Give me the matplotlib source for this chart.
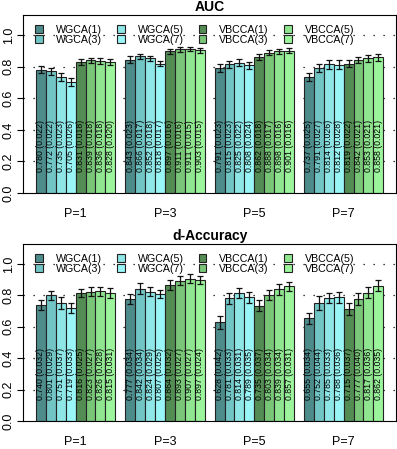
import numpy as np
import matplotlib.pyplot as plt
from matplotlib.patches import Patch

plt.rcParams['font.family'] = ['Liberation Sans', 'DejaVu Sans']

groups = ['P=1', 'P=3', 'P=5', 'P=7']
methods = ['WGCA(1)', 'WGCA(3)', 'WGCA(5)', 'WGCA(7)',
           'VBCCA(1)', 'VBCCA(3)', 'VBCCA(5)', 'VBCCA(7)']
colors = ['#4e8b8b', '#72c5c5', '#8ee6e6', '#9af6f6',
          '#538d53', '#79c679', '#90e690', '#9cf59c']

# rows = groups, cols = methods
auc_mean = [[0.780, 0.772, 0.735, 0.705, 0.831, 0.839, 0.836, 0.828],
            [0.843, 0.866, 0.852, 0.818, 0.897, 0.911, 0.911, 0.903],
            [0.791, 0.815, 0.825, 0.808, 0.862, 0.888, 0.898, 0.901],
            [0.737, 0.791, 0.814, 0.812, 0.819, 0.842, 0.853, 0.858]]
auc_sd = [[0.022, 0.022, 0.023, 0.026, 0.018, 0.018, 0.018, 0.020],
          [0.023, 0.017, 0.018, 0.017, 0.016, 0.016, 0.015, 0.015],
          [0.023, 0.023, 0.022, 0.024, 0.018, 0.017, 0.016, 0.016],
          [0.025, 0.027, 0.026, 0.028, 0.022, 0.021, 0.021, 0.021]]

acc_mean = [[0.740, 0.801, 0.751, 0.719, 0.816, 0.823, 0.826, 0.815],
            [0.777, 0.842, 0.824, 0.807, 0.864, 0.893, 0.907, 0.897],
            [0.628, 0.781, 0.814, 0.789, 0.735, 0.803, 0.839, 0.857],
            [0.655, 0.752, 0.785, 0.788, 0.715, 0.777, 0.817, 0.862]]
acc_sd = [[0.032, 0.029, 0.037, 0.033, 0.025, 0.027, 0.028, 0.031],
          [0.034, 0.034, 0.029, 0.025, 0.032, 0.027, 0.027, 0.024],
          [0.042, 0.033, 0.031, 0.035, 0.037, 0.034, 0.034, 0.031],
          [0.034, 0.044, 0.033, 0.036, 0.037, 0.040, 0.036, 0.035]]

fig = plt.figure(figsize=(3.97, 4.49), dpi=100)
ax1 = fig.add_axes([0.058, 0.570, 0.940, 0.396])
ax2 = fig.add_axes([0.058, 0.062, 0.940, 0.394])


def draw(ax, means, sds, title):
    means = np.array(means)
    sds = np.array(sds)
    n = len(methods)
    for g in range(len(groups)):
        x = g * (n + 1) + np.arange(n) + 0.5
        ax.bar(x, means[g], width=1.0, color=colors, edgecolor='#222222',
               linewidth=0.8, zorder=2)
        ax.errorbar(x, means[g], yerr=sds[g], fmt='none', ecolor='#111111',
                    elinewidth=0.9, capsize=2.2, capthick=0.9, zorder=3)
        for xi, m, s in zip(x, means[g], sds[g]):
            ax.text(xi, 0.30, f'{m:.3f} ({s:.3f})', rotation=90,
                    ha='center', va='center', fontsize=6.3, zorder=4)
    centers = [g * (n + 1) + n / 2 for g in range(len(groups))]
    ax.set_xticks(centers)
    ax.set_xticklabels(groups, fontsize=9)
    ax.tick_params(axis='x', length=0, pad=11)
    ax.set_xlim(-1.3, 4 * n + 3 + 1.3)
    ax.set_ylim(0, 1.125)
    ax.set_yticks([0.0, 0.2, 0.4, 0.6, 0.8, 1.0])
    ax.set_yticklabels(['0.0', '0.2', '0.4', '0.6', '0.8', '1.0'],
                       rotation=90, va='center', fontsize=9)
    ax.tick_params(axis='y', length=4, pad=2)
    for yv in [0.2, 0.4, 0.6, 0.8, 1.0]:
        ax.axhline(yv, color='black', linestyle=(0, (1, 7)), linewidth=0.9,
                   zorder=1)
    ax.set_title(title, fontsize=10, fontweight='bold', pad=3)
    handles = [Patch(facecolor=c, edgecolor='#222222', linewidth=0.8)
               for c in colors]
    ax.legend(handles, methods, ncol=4, loc='upper left',
              bbox_to_anchor=(0.033, 0.947), frameon=False, fontsize=7.7,
              handlelength=0.7, handleheight=0.7, handletextpad=1.2,
              columnspacing=1.45, labelspacing=0.0, borderaxespad=0.0,
              borderpad=0.0)


draw(ax1, auc_mean, auc_sd, 'AUC')
draw(ax2, acc_mean, acc_sd, 'd-Accuracy')

fig.savefig('out.png', dpi=100)
